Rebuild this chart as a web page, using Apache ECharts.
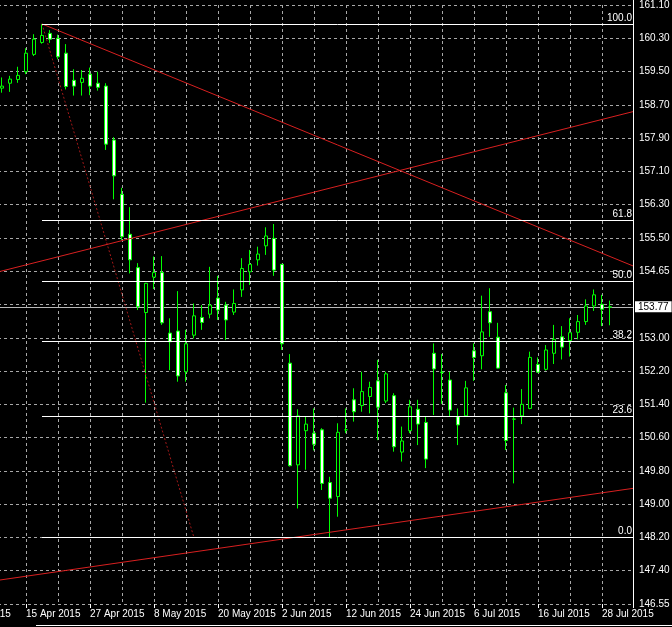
<!DOCTYPE html>
<html>
<head>
<meta charset="utf-8">
<script src="https://cdn.jsdelivr.net/npm/echarts@6/dist/echarts.min.js"></script>
<style>
html,body{margin:0;padding:0;background:#000;}
#c{width:672px;height:627px;}
</style>
</head>
<body>
<div id="c"></div>
<script>
// ---- data (daily bars) ----
const dates = ['10 Apr 2015','13 Apr 2015','14 Apr 2015','15 Apr 2015','16 Apr 2015','17 Apr 2015','20 Apr 2015','21 Apr 2015','22 Apr 2015','23 Apr 2015',
'24 Apr 2015','27 Apr 2015','28 Apr 2015','29 Apr 2015','30 Apr 2015','4 May 2015','5 May 2015','6 May 2015','7 May 2015','8 May 2015',
'11 May 2015','12 May 2015','13 May 2015','14 May 2015','15 May 2015','18 May 2015','19 May 2015','20 May 2015','21 May 2015','22 May 2015',
'26 May 2015','27 May 2015','28 May 2015','29 May 2015','1 Jun 2015','2 Jun 2015','3 Jun 2015','4 Jun 2015','5 Jun 2015','8 Jun 2015',
'9 Jun 2015','10 Jun 2015','11 Jun 2015','12 Jun 2015','15 Jun 2015','16 Jun 2015','17 Jun 2015','18 Jun 2015','19 Jun 2015','22 Jun 2015',
'23 Jun 2015','24 Jun 2015','25 Jun 2015','26 Jun 2015','29 Jun 2015','30 Jun 2015','1 Jul 2015','2 Jul 2015','3 Jul 2015','6 Jul 2015',
'7 Jul 2015','8 Jul 2015','9 Jul 2015','10 Jul 2015','13 Jul 2015','14 Jul 2015','15 Jul 2015','16 Jul 2015','17 Jul 2015','20 Jul 2015',
'21 Jul 2015','22 Jul 2015','23 Jul 2015','24 Jul 2015','27 Jul 2015','28 Jul 2015','29 Jul 2015'];

const opens = [159.08,159.20,159.29,159.48,159.90,160.19,160.41,160.29,159.93,159.27,
159.22,159.42,159.20,159.13,157.82,156.50,155.53,154.72,153.63,154.49,
154.60,153.13,153.18,152.19,153.08,153.51,153.59,153.98,153.81,153.64,
154.18,154.62,154.91,155.25,155.43,154.80,152.40,149.93,150.76,150.70,
150.78,149.50,149.16,150.78,151.51,151.37,151.59,151.97,151.48,151.61,
150.24,150.76,151.28,150.96,152.64,152.18,151.99,151.10,151.12,152.70,
152.58,153.65,153.03,151.68,151.04,151.12,151.30,152.37,152.25,152.64,
153.04,152.95,153.15,153.41,153.79,153.83,153.76];

const closes = [159.13,159.30,159.39,159.93,160.27,160.36,160.27,159.84,159.12,159.13,
159.32,159.13,159.10,157.72,156.95,155.47,154.91,153.77,154.34,154.60,
153.38,152.92,152.09,152.87,153.55,153.39,153.81,153.69,153.45,153.85,
154.70,154.80,155.05,155.49,154.66,152.87,149.91,151.12,150.92,150.43,
149.48,149.12,150.72,150.78,151.22,151.71,151.81,151.33,152.14,150.37,
150.51,151.34,150.92,150.07,152.26,152.17,151.26,150.90,151.80,152.54,
153.16,153.38,152.28,150.52,151.04,151.40,152.54,152.18,152.72,152.98,
152.79,153.14,153.41,153.79,154.06,153.71,153.77];

const lows = [158.97,158.99,159.21,159.42,159.86,160.16,160.18,159.78,159.05,158.90,
158.90,158.91,159.02,157.58,156.38,155.39,154.58,153.69,151.44,154.20,
153.33,152.23,151.95,151.95,153.00,153.21,153.49,153.45,152.96,153.57,
154.01,154.30,154.77,155.03,154.52,152.72,149.89,148.87,149.81,150.28,
149.32,148.16,148.67,150.70,150.98,151.22,151.18,150.53,151.43,150.25,
150.01,150.70,150.41,149.85,151.14,151.41,151.10,150.41,151.10,151.97,
152.25,153.04,152.27,150.29,149.48,150.92,151.28,152.17,152.22,152.38,
152.49,152.56,152.98,153.33,153.67,153.30,153.32];

const highs = [159.34,159.38,159.60,160.05,160.39,160.64,160.49,160.38,160.15,159.54,
159.52,159.58,159.48,159.20,157.89,156.66,156.19,154.83,154.35,154.99,
155.00,153.49,154.15,153.21,153.85,153.81,154.74,154.52,153.89,154.19,
154.95,155.15,155.23,155.70,155.78,154.81,152.62,151.28,151.10,151.30,
150.82,149.64,150.94,151.30,151.79,152.19,151.95,152.48,152.19,151.67,
150.86,151.51,151.51,151.10,152.88,152.62,152.19,151.30,151.97,152.88,
154.04,154.22,153.38,151.87,151.32,151.77,152.68,152.54,152.84,153.33,
153.30,153.49,153.57,153.95,154.19,154.06,153.92];

// price-axis tick labels, bottom to top (index 9 is covered by the bid label)
const yTickLabels = ['146.55','147.40','148.20','149.00','149.80','150.60','151.40','152.20','153.00','',
'154.65','155.50','156.30','157.10','157.90','158.70','159.50','160.30','161.10'];
// date-axis tick labels, one every 8 bars starting 8 bars before 15 Apr
const xTickLabels = ['3 Apr 2015','15 Apr 2015','27 Apr 2015','8 May 2015','20 May 2015','2 Jun 2015',
'12 Jun 2015','24 Jun 2015','6 Jul 2015','16 Jul 2015','28 Jul 2015'];

const bidPrice = 153.77;
// Fibonacci retracement anchors [bar index, price]
const fibHigh = [5, 160.64];
const fibLow = [24, 148.16];
const fibLevels = [0, 23.6, 38.2, 50, 61.8, 100];
// trend line anchors [bar index, price]
const trendA = [[5, 160.64], [75, 155.07]];   // ray to the right
const trendB = [[0, 154.64], [75, 158.32]];   // full line
const trendC = [[0, 147.14], [75, 149.25]];   // full line

// ---- axis ranges ----
const X_MIN = -5, X_MAX = 78.875;
const Y_MIN = 146.55, Y_MAX = 161.10;

function extend(p, leftToo) {
  const s = (p[1][1] - p[0][1]) / (p[1][0] - p[0][0]);
  const x0 = leftToo ? X_MIN : p[0][0];
  return [[x0, p[0][1] + s * (x0 - p[0][0])], [X_MAX, p[0][1] + s * (X_MAX - p[0][0])]];
}

const candles = dates.map((d, i) => [i, opens[i], closes[i], lows[i], highs[i]]);
const FONT = '"Liberation Sans", Arial, sans-serif';
const gridLine = {show: true, lineStyle: {color: '#a8a8a8', type: [3, 3], width: 1}};

const fibMarks = fibLevels.map(lv => {
  const p = fibLow[1] + (fibHigh[1] - fibLow[1]) * lv / 100;
  return [{coord: [fibHigh[0], p], name: lv.toFixed(1)}, {coord: [X_MAX, p]}];
});

const chart = echarts.init(document.getElementById('c'), null, {renderer: 'canvas', width: 672, height: 627});
chart.setOption({
  backgroundColor: '#000',
  animation: false,
  textStyle: {fontFamily: FONT},
  grid: {left: -38, right: 39, top: 5, bottom: 23, containLabel: false, outerBoundsMode: 'none'},
  xAxis: [
    {type: 'value', min: X_MIN, max: X_MAX, interval: 4, position: 'bottom',
     axisLine: {show: false, onZero: false}, axisTick: {show: false}, axisLabel: {show: false}, splitLine: gridLine},
    {type: 'value', min: X_MIN, max: X_MAX, interval: 8, position: 'bottom',
     axisLine: {show: false, onZero: false}, splitLine: {show: false},
     axisTick: {show: true, length: 4, lineStyle: {color: '#fff'}},
     axisLabel: {show: true, color: '#fff', fontSize: 10, fontFamily: FONT, align: 'left', margin: 5,
       showMinLabel: true, showMaxLabel: true, hideOverlap: false,
       formatter: v => { const k = Math.round((v - X_MIN) / 8); return Math.abs(v - (X_MIN + 8 * k)) < 1e-6 ? (xTickLabels[k] || '') : ''; }}}
  ],
  yAxis: [
    {type: 'value', min: Y_MIN, max: Y_MAX, show: false, scale: true, axisLine: {onZero: false}},
    {type: 'value', min: 0, max: 18, interval: 1, position: 'right',
     axisLine: {show: true, onZero: false, lineStyle: {color: '#fff', width: 1}},
     axisTick: {show: false},
     axisLabel: {show: true, color: '#fff', fontSize: 10, fontFamily: FONT, margin: 6,
       showMinLabel: true, showMaxLabel: true, hideOverlap: false,
       formatter: v => yTickLabels[Math.round(v)] || ''},
     splitLine: gridLine}
  ],
  series: [
    {type: 'candlestick', xAxisIndex: 0, yAxisIndex: 0, data: candles, barWidth: 4, z: 2,
     itemStyle: {color: '#000', color0: '#ffffff', borderColor: '#00ff00', borderColor0: '#00ff00', borderWidth: 1},
     markLine: {silent: true, symbol: 'none', z: 1,
       lineStyle: {color: '#b8b8b8', type: 'solid', width: 1},
       label: {position: 'end', formatter: bidPrice.toFixed(2), color: '#000', backgroundColor: '#fff',
         fontSize: 10, fontFamily: FONT, padding: [1, 3, 0, 3], distance: 2},
       data: [{yAxis: bidPrice}]}},
    {type: 'line', xAxisIndex: 0, yAxisIndex: 0, data: [fibHigh, fibLow], symbol: 'none', z: 3,
     lineStyle: {color: '#a01818', type: [2, 2], width: 1},
     markLine: {silent: true, symbol: 'none',
       lineStyle: {color: '#ffffff', type: 'solid', width: 1},
       label: {position: 'insideEndTop', formatter: '{b}', color: '#fff', fontSize: 10, fontFamily: FONT, distance: 1},
       data: fibMarks}},
    {type: 'line', xAxisIndex: 0, yAxisIndex: 0, data: extend(trendA, false), symbol: 'none', z: 4,
     lineStyle: {color: '#d82020', width: 1}},
    {type: 'line', xAxisIndex: 0, yAxisIndex: 0, data: extend(trendB, true), symbol: 'none', z: 4,
     lineStyle: {color: '#d82020', width: 1}},
    {type: 'line', xAxisIndex: 0, yAxisIndex: 0, data: extend(trendC, true), symbol: 'none', z: 4,
     lineStyle: {color: '#d82020', width: 1}}
  ],
  graphic: [
    {type: 'line', z: 100, shape: {x1: 633.5, y1: 0, x2: 633.5, y2: 606}, style: {stroke: '#fff', lineWidth: 1}},
    {type: 'line', shape: {x1: 36, y1: 625.5, x2: 672, y2: 625.5}, style: {stroke: '#fff', lineWidth: 1}}
  ]
});
</script>
</body>
</html>
